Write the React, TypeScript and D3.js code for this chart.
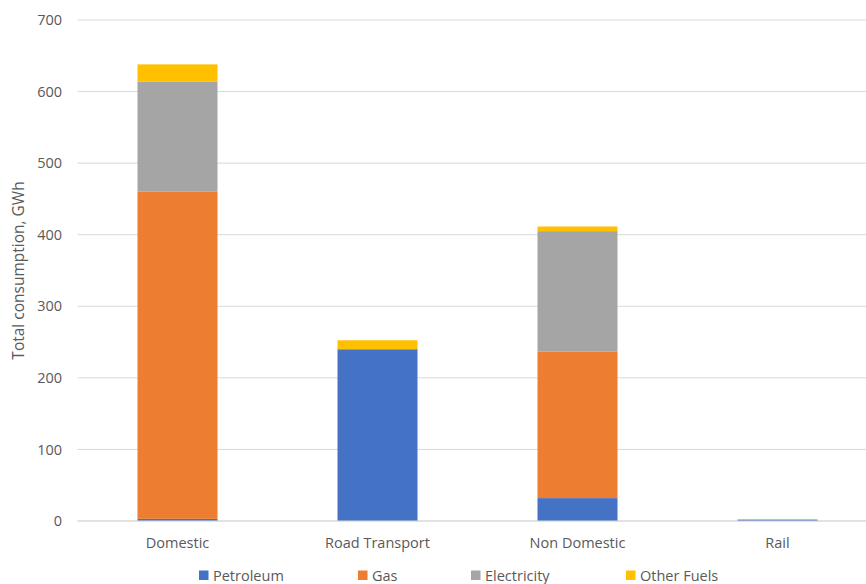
import React from "react";
import * as d3 from "d3";

// Sectors along the x axis
const categories = ["Domestic", "Road Transport", "Non Domestic", "Rail"];

// Fuel series, GWh per sector
const petroleum = [3, 240, 32, 2];
const gas = [457, 0, 205, 0];
const electricity = [154, 0, 168, 0];
const otherFuels = [24, 12.5, 6.5, 0];

const seriesNames = ["Petroleum", "Gas", "Electricity", "Other Fuels"];
const seriesColors = ["#4472C4", "#ED7D31", "#A5A5A5", "#FFC000"];
const yTicks = [0, 100, 200, 300, 400, 500, 600, 700];

const W = 866;
const H = 584;
const margin = { left: 77.5, right: -11.5, top: 20, bottom: 63 };
const FONT = "'Open Sans', 'Noto Sans', sans-serif";

export default function App() {
  const rows = categories.map((c, i) => ({
    category: c,
    Petroleum: petroleum[i],
    Gas: gas[i],
    Electricity: electricity[i],
    "Other Fuels": otherFuels[i],
  }));
  const stacked = d3.stack<any>().keys(seriesNames)(rows);

  const x = d3
    .scaleBand()
    .domain(categories)
    .range([margin.left, W - margin.right])
    .paddingInner(0.6)
    .paddingOuter(0.3);
  const y = d3
    .scaleLinear()
    .domain([0, 700])
    .range([H - margin.bottom, margin.top]);

  const legendX = [199, 358, 471, 626];

  return (
    <svg
      width={W}
      height={H}
      style={{ position: "absolute", left: 0, top: 0, background: "#fff" }}
      fontFamily={FONT}
    >
      {yTicks.map((t) => (
        <g key={t}>
          <line
            x1={margin.left}
            x2={W - margin.right}
            y1={y(t)}
            y2={y(t)}
            stroke="#D9D9D9"
            strokeWidth={1}
          />
          <text
            x={62}
            y={y(t)}
            dy="0.35em"
            textAnchor="end"
            fontSize={14.5}
            fill="#595959"
          >
            {t}
          </text>
        </g>
      ))}
      {stacked.map((s, si) => (
        <g key={s.key} fill={seriesColors[si]}>
          {s.map((d, i) =>
            d[1] - d[0] > 0 ? (
              <rect
                key={i}
                x={x(categories[i])!}
                width={x.bandwidth()}
                y={y(d[1])}
                height={y(d[0]) - y(d[1])}
              />
            ) : null
          )}
        </g>
      ))}
      <line
        x1={margin.left}
        x2={W - margin.right}
        y1={y(0)}
        y2={y(0)}
        stroke="#D9D9D9"
        strokeWidth={1}
      />
      {categories.map((c) => (
        <text
          key={c}
          x={x(c)! + x.bandwidth() / 2}
          y={543}
          dy="0.35em"
          textAnchor="middle"
          fontSize={14.5}
          fill="#595959"
        >
          {c}
        </text>
      ))}
      <text
        transform={`translate(19,${(margin.top + H - margin.bottom) / 2}) rotate(-90)`}
        textAnchor="middle"
        dy="0.35em"
        fontSize={15.5}
        fill="#595959"
      >
        Total consumption, GWh
      </text>
      {seriesNames.map((n, i) => (
        <g key={n}>
          <rect x={legendX[i]} y={570.5} width={9.5} height={9.5} fill={seriesColors[i]} />
          <text x={legendX[i] + 14} y={575.5} dy="0.35em" fontSize={14.5} fill="#595959">
            {n}
          </text>
        </g>
      ))}
    </svg>
  );
}
